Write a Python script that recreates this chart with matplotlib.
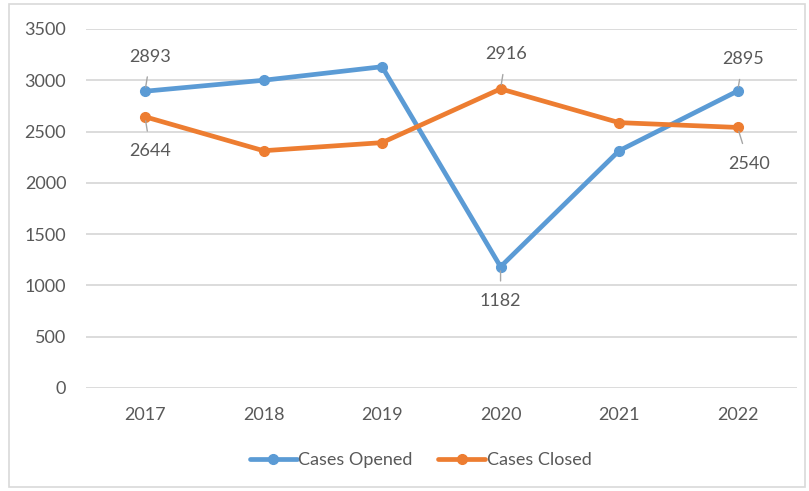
import matplotlib
matplotlib.use("Agg")
import matplotlib.pyplot as plt
from matplotlib.patches import Rectangle

years = ["2017", "2018", "2019", "2020", "2021", "2022"]
opened = [2893, 3000, 3132, 1182, 2313, 2895]
closed = [2644, 2313, 2392, 2916, 2587, 2540]
yticks = [0, 500, 1000, 1500, 2000, 2500, 3000, 3500]

# labelled points: (series, index, offset in points)
labels_opened = {0: (4, 25), 3: (0, -25), 5: (4, 23)}
labels_closed = {0: (4, -25), 3: (4, 25), 5: (8, -26)}

plt.rcParams['font.family'] = ['Lato', 'DejaVu Sans']
txt = '#595959'
blue = '#5B9BD5'
orange = '#ED7D31'

fig = plt.figure(figsize=(8.09, 4.91), dpi=100)
ax = fig.add_axes([0.106, 0.2098, 0.879, 0.7312])

x = list(range(len(years)))
ax.plot(x, opened, color=blue, lw=3.4, marker='o', ms=7, label='Cases Opened',
        solid_capstyle='round', zorder=3)
ax.plot(x, closed, color=orange, lw=3.4, marker='o', ms=7, label='Cases Closed',
        solid_capstyle='round', zorder=3)

for series, lab in ((opened, labels_opened), (closed, labels_closed)):
    for i, (dx, dy) in lab.items():
        ax.annotate(str(series[i]), xy=(i, series[i]), xytext=(dx, dy),
                    textcoords='offset points', ha='center', va='center',
                    fontsize=13, color=txt,
                    arrowprops=dict(arrowstyle='-', color='#A6A6A6', lw=1,
                                    shrinkA=7, shrinkB=3))

ax.set_xlim(-0.5, len(years) - 0.5)
ax.set_ylim(0, 3500)
ax.set_yticks(yticks)
ax.set_xticks(x)
ax.set_xticklabels(years)
ax.tick_params(axis='both', length=0, labelsize=13, labelcolor=txt)
ax.tick_params(axis='x', pad=14)
ax.tick_params(axis='y', pad=14)
ax.grid(axis='y', color='#D9D9D9', lw=1.3)
ax.set_axisbelow(True)
for s in ax.spines.values():
    s.set_visible(False)

fig.legend(loc='center', bbox_to_anchor=(0.52, 0.063), ncol=2, frameon=False,
           fontsize=13, labelcolor=txt, handlelength=2.6, handletextpad=0.1,
           columnspacing=1.4)

fig.patches.append(Rectangle((9 / 809, 4 / 491), 796 / 809, 483 / 491,
                             transform=fig.transFigure, fill=False,
                             edgecolor='#D9D9D9', lw=1.2))

fig.savefig('out.png', dpi=100)
